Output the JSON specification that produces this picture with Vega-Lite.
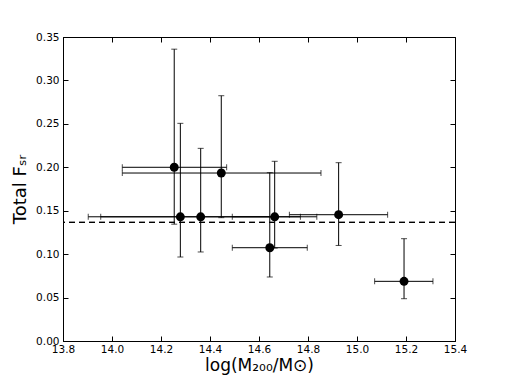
{
  "$schema": "https://vega.github.io/schema/vega-lite/v6.json",
  "width": 392,
  "height": 304,
  "autosize": "none",
  "padding": {"left": 63, "top": 37, "right": 51, "bottom": 38},
  "background": "white",
  "config": {
    "view": {"stroke": "black", "strokeWidth": 1},
    "axis": {
      "domainColor": "black",
      "tickColor": "black",
      "labelColor": "black",
      "titleColor": "black",
      "labelFont": "DejaVu Sans",
      "titleFont": "DejaVu Sans",
      "labelFontSize": 10.5,
      "titleFontWeight": "normal",
      "grid": false,
      "tickSize": -5,
      "labelFlush": false,
      "labelOverlap": false
    }
  },
  "data": {
    "values": [
      {"x": 14.254, "y": 0.200, "xlo": 14.042, "xhi": 14.468, "ylo": 0.1345, "yhi": 0.336},
      {"x": 14.279, "y": 0.143, "xlo": 13.903, "xhi": 14.655, "ylo": 0.0967, "yhi": 0.2506},
      {"x": 14.362, "y": 0.143, "xlo": 13.954, "xhi": 14.769, "ylo": 0.1025, "yhi": 0.2218},
      {"x": 14.446, "y": 0.1934, "xlo": 14.042, "xhi": 14.853, "ylo": 0.142, "yhi": 0.2824},
      {"x": 14.644, "y": 0.1074, "xlo": 14.491, "xhi": 14.797, "ylo": 0.0737, "yhi": 0.1938},
      {"x": 14.664, "y": 0.143, "xlo": 14.491, "xhi": 14.836, "ylo": 0.107, "yhi": 0.2069},
      {"x": 14.925, "y": 0.1454, "xlo": 14.724, "xhi": 15.125, "ylo": 0.110, "yhi": 0.2053},
      {"x": 15.192, "y": 0.0687, "xlo": 15.072, "xhi": 15.31, "ylo": 0.0487, "yhi": 0.1178}
    ]
  },
  "layer": [
    {
      "mark": {"type": "rule", "color": "black", "strokeWidth": 1},
      "encoding": {
        "x": {"field": "x", "type": "quantitative", "scale": {"domain": [13.8, 15.4], "nice": false, "zero": false},
          "axis": {"values": [13.8, 14.0, 14.2, 14.4, 14.6, 14.8, 15.0, 15.2, 15.4], "format": ".1f", "title": "log(M₂₀₀/M⊙)", "titleFontSize": 17, "titlePadding": 3, "labelPadding": 8}},
        "y": {"field": "ylo", "type": "quantitative", "scale": {"domain": [0, 0.35], "nice": false, "zero": false},
          "axis": {"values": [0, 0.05, 0.1, 0.15, 0.2, 0.25, 0.3, 0.35], "format": ".2f", "title": "Total Fₛᵣ", "titleFontSize": 18, "titlePadding": 6, "labelPadding": 9}},
        "y2": {"field": "yhi"}
      }
    },
    {
      "mark": {"type": "rule", "color": "black", "strokeDash": [6, 4], "strokeWidth": 1},
      "encoding": {"y": {"datum": 0.1365, "type": "quantitative", "axis": null}}
    },
    {
      "mark": {"type": "rule", "color": "black", "strokeWidth": 1},
      "encoding": {
        "x": {"field": "xlo", "type": "quantitative", "axis": null},
        "x2": {"field": "xhi"},
        "y": {"field": "y", "type": "quantitative", "axis": null}
      }
    },
    {
      "mark": {"type": "tick", "orient": "horizontal", "color": "black", "size": 6, "thickness": 1},
      "encoding": {"x": {"field": "x", "type": "quantitative", "axis": null}, "y": {"field": "ylo", "type": "quantitative", "axis": null}}
    },
    {
      "mark": {"type": "tick", "orient": "horizontal", "color": "black", "size": 6, "thickness": 1},
      "encoding": {"x": {"field": "x", "type": "quantitative", "axis": null}, "y": {"field": "yhi", "type": "quantitative", "axis": null}}
    },
    {
      "mark": {"type": "tick", "orient": "vertical", "color": "black", "size": 6, "thickness": 1},
      "encoding": {"x": {"field": "xlo", "type": "quantitative", "axis": null}, "y": {"field": "y", "type": "quantitative", "axis": null}}
    },
    {
      "mark": {"type": "tick", "orient": "vertical", "color": "black", "size": 6, "thickness": 1},
      "encoding": {"x": {"field": "xhi", "type": "quantitative", "axis": null}, "y": {"field": "y", "type": "quantitative", "axis": null}}
    },
    {
      "mark": {"type": "point", "shape": "circle", "filled": true, "color": "black", "opacity": 1, "size": 80},
      "encoding": {"x": {"field": "x", "type": "quantitative", "axis": null}, "y": {"field": "y", "type": "quantitative", "axis": null}}
    },
    {
      "mark": {"type": "point", "opacity": 0},
      "encoding": {
        "x": {"field": "x", "type": "quantitative", "axis": {"orient": "top", "labels": false, "title": null, "domain": false, "values": [13.8, 14.0, 14.2, 14.4, 14.6, 14.8, 15.0, 15.2, 15.4]}},
        "y": {"field": "y", "type": "quantitative", "axis": {"orient": "right", "labels": false, "title": null, "domain": false, "values": [0, 0.05, 0.1, 0.15, 0.2, 0.25, 0.3, 0.35]}}
      }
    }
  ],
  "resolve": {"axis": {"x": "independent", "y": "independent"}}
}
